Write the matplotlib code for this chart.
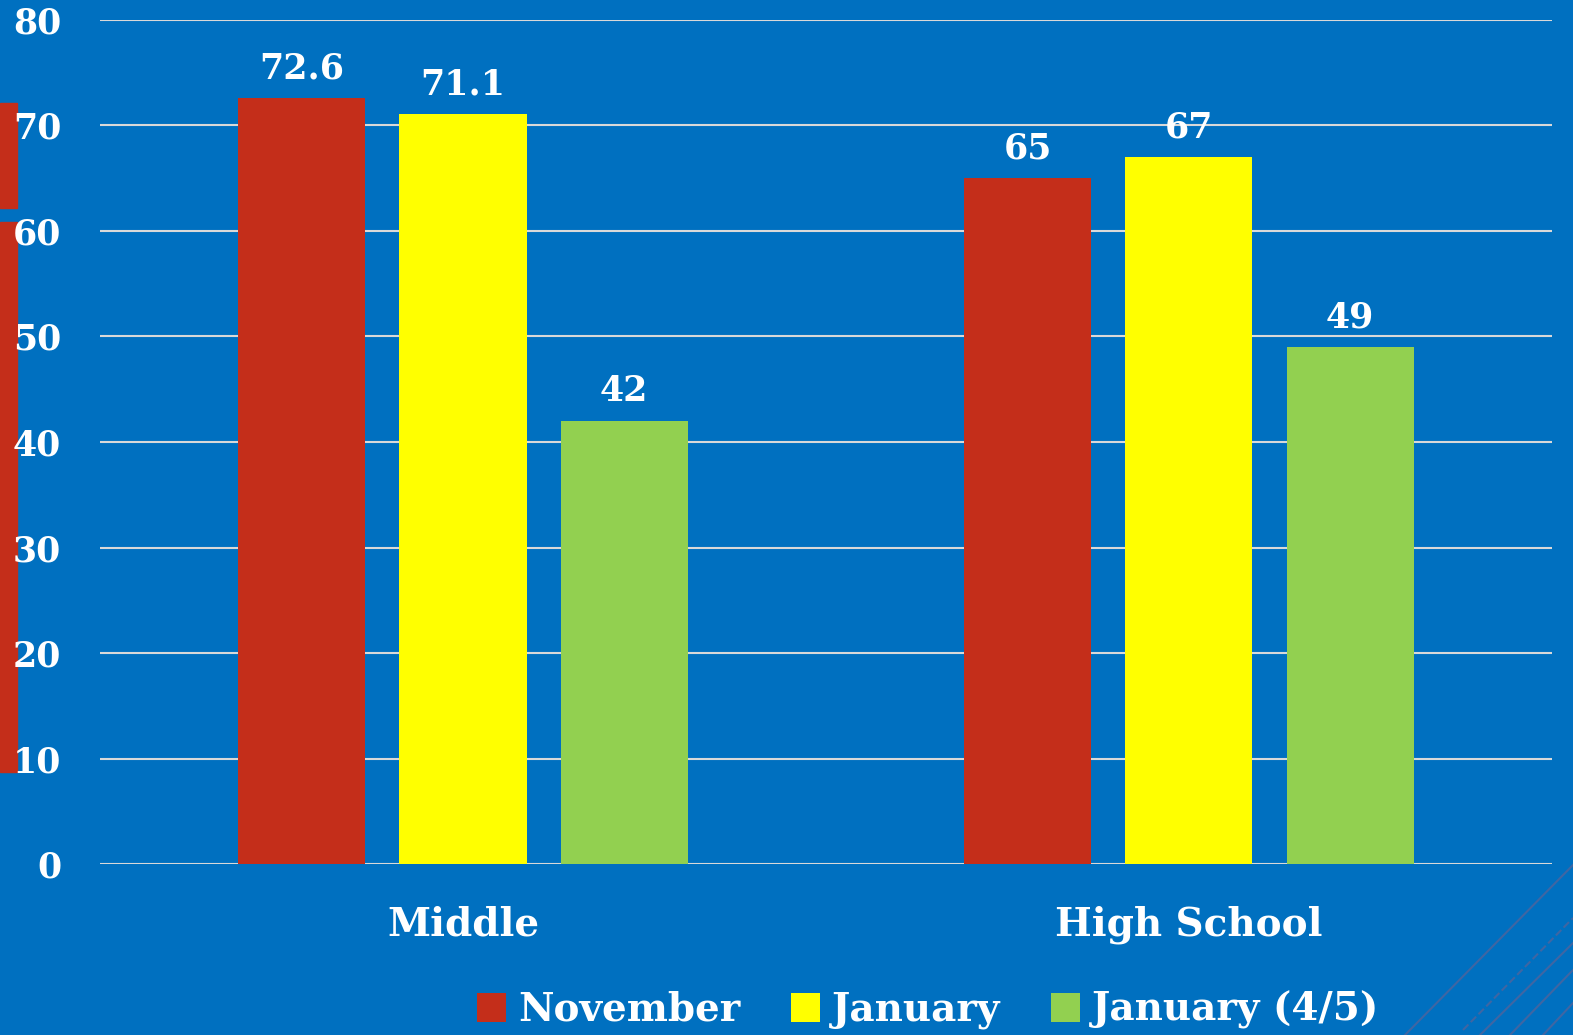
import numpy as np
import matplotlib.pyplot as plt
from matplotlib.patches import Rectangle
from matplotlib.lines import Line2D

# Data
categories = ["Middle", "High School"]
series_names = ["November", "January", "January (4/5)"]
november = [72.6, 65]
january = [71.1, 67]
january_45 = [42, 49]
value_labels = [["72.6", "65"], ["71.1", "67"], ["42", "49"]]

bg = '#0070C0'
colors = ['#C42E1A', '#FFFF00', '#92D050']

plt.rcParams["font.family"] = ["DejaVu Serif"]
plt.rcParams["font.weight"] = "bold"

fig = plt.figure(figsize=(15.73, 10.35), dpi=100, facecolor=bg)
ax = fig.add_axes([0.0636, 0.1652, 0.9230, 0.8155])
ax.set_facecolor(bg)

x = np.arange(len(categories))
width = 0.175
step = 0.222
all_series = [november, january, january_45]
for i, vals in enumerate(all_series):
    pos = x + (i - 1) * step
    bars = ax.bar(pos, vals, width, color=colors[i], label=series_names[i], zorder=3)
    for b, lab in zip(bars, value_labels[i]):
        ax.text(b.get_x() + b.get_width() / 2, b.get_height() + 1.2, lab,
                ha='center', va='bottom', color='white', fontsize=25,
                fontweight='bold')

ax.set_xlim(-0.5, 1.5)
ax.set_ylim(0, 80)
ax.set_yticks(np.arange(0, 81, 10))
ax.yaxis.grid(True, color='#d9d9d9', linewidth=1.5, zorder=0)
ax.set_axisbelow(True)
for s in ax.spines.values():
    s.set_visible(False)
ax.tick_params(axis='both', length=0, colors='white', labelsize=25)
ax.tick_params(axis='y', pad=28)
ax.tick_params(axis='x', pad=30)
ax.set_xticks(x)
ax.set_xticklabels(categories, fontsize=28, fontweight='bold', color='white')
for t in ax.get_yticklabels():
    t.set_fontweight('bold')

leg = fig.legend(loc='center', bbox_to_anchor=(0.59, 0.024), ncol=3, frameon=False,
                 fontsize=28, handlelength=0.75, handleheight=0.75, handletextpad=0.3,
                 columnspacing=1.3, labelcolor='white')

# decorative red bars on the left edge
W, H = 1573.0, 1035.0
fig.patches.append(Rectangle((0, 1 - 208 / H), 17 / W, 105 / H,
                             transform=fig.transFigure, color='#C42E1A', zorder=-1))
fig.patches.append(Rectangle((0, 1 - 772 / H), 17 / W, 550 / H,
                             transform=fig.transFigure, color='#C42E1A', zorder=-1))

# decorative diagonal lines bottom right
lc = '#3f66a3'
diag = [((1405, 1035), (1573, 865), '-'),
        ((1463, 1030), (1573, 918), '--'),
        ((1480, 1035), (1573, 943), '-'),
        ((1510, 1035), (1573, 970), '-'),
        ((1543, 1035), (1573, 1003), '-')]
for (x0, y0), (x1, y1), ls in diag:
    fig.add_artist(Line2D([x0 / W, x1 / W], [1 - y0 / H, 1 - y1 / H],
                          transform=fig.transFigure, color=lc, linewidth=1.5,
                          linestyle=ls))

fig.savefig('out.png', dpi=100, facecolor=bg)
